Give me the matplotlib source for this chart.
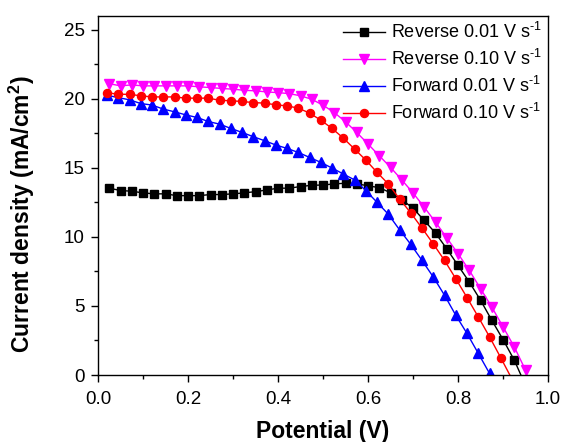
import matplotlib
matplotlib.use("Agg")
import matplotlib.pyplot as plt
from matplotlib.ticker import MultipleLocator

plt.rcParams['font.family'] = ['Liberation Sans', 'DejaVu Sans']
plt.rcParams['mathtext.fontset'] = 'custom'
plt.rcParams['mathtext.rm'] = 'Liberation Sans'
plt.rcParams['mathtext.it'] = 'Liberation Sans:italic'
plt.rcParams['mathtext.bf'] = 'Liberation Sans:bold'

# Reverse 0.01 V/s (black squares)
v_rev001 = [0.025, 0.05, 0.075, 0.10, 0.125, 0.15, 0.175, 0.20, 0.225, 0.25,
            0.275, 0.30, 0.325, 0.35, 0.375, 0.40, 0.425, 0.45, 0.475, 0.50,
            0.525, 0.55, 0.575, 0.60, 0.625, 0.65, 0.675, 0.70, 0.725, 0.75,
            0.775, 0.80, 0.825, 0.85, 0.875, 0.90, 0.925, 0.95]
j_rev001 = [13.53, 13.36, 13.31, 13.19, 13.12, 13.12, 12.99, 12.99, 12.99, 13.07,
            13.07, 13.12, 13.19, 13.28, 13.40, 13.53, 13.53, 13.65, 13.74, 13.76,
            13.84, 13.89, 13.85, 13.70, 13.57, 13.20, 12.70, 12.08, 11.19, 10.28,
            9.14, 7.94, 6.74, 5.42, 3.97, 2.57, 1.08, -0.75]

# Reverse 0.10 V/s (magenta down triangles)
v_rev010 = [0.025, 0.05, 0.075, 0.10, 0.125, 0.15, 0.175, 0.20, 0.225, 0.25,
            0.275, 0.30, 0.325, 0.35, 0.375, 0.40, 0.425, 0.45, 0.475, 0.50,
            0.525, 0.55, 0.575, 0.60, 0.625, 0.65, 0.675, 0.70, 0.725, 0.75,
            0.775, 0.80, 0.825, 0.85, 0.875, 0.90, 0.925, 0.95]
j_rev010 = [21.10, 20.94, 21.01, 20.94, 20.94, 20.94, 20.94, 20.94, 20.87, 20.82,
            20.75, 20.70, 20.62, 20.58, 20.50, 20.45, 20.38, 20.22, 19.97, 19.54,
            19.01, 18.34, 17.57, 16.73, 15.88, 15.04, 14.13, 13.19, 12.15, 11.07,
            9.94, 8.79, 7.58, 6.26, 4.93, 3.49, 2.04, 0.36]

# Forward 0.01 V/s (blue up triangles)
v_fwd001 = [0.02, 0.045, 0.07, 0.095, 0.12, 0.145, 0.17, 0.195, 0.22, 0.245,
            0.27, 0.295, 0.32, 0.345, 0.37, 0.395, 0.42, 0.445, 0.47, 0.495,
            0.52, 0.545, 0.57, 0.595, 0.62, 0.645, 0.67, 0.695, 0.72, 0.745,
            0.77, 0.795, 0.82, 0.845, 0.87]
j_fwd001 = [20.26, 20.09, 19.93, 19.66, 19.55, 19.26, 19.06, 18.84, 18.65, 18.36,
            18.17, 17.86, 17.57, 17.26, 16.97, 16.66, 16.41, 16.12, 15.76, 15.40,
            14.99, 14.56, 14.13, 13.36, 12.51, 11.65, 10.52, 9.46, 8.30, 7.10,
            5.78, 4.33, 3.01, 1.57, 0.12]

# Forward 0.10 V/s (red circles)
v_fwd010 = [0.02, 0.045, 0.07, 0.095, 0.12, 0.145, 0.17, 0.195, 0.22, 0.245,
            0.27, 0.295, 0.32, 0.345, 0.37, 0.395, 0.42, 0.445, 0.47, 0.495,
            0.52, 0.545, 0.57, 0.595, 0.62, 0.645, 0.67, 0.695, 0.72, 0.745,
            0.77, 0.795, 0.82, 0.845, 0.87, 0.895, 0.92]
j_fwd010 = [20.45, 20.33, 20.33, 20.22, 20.14, 20.14, 20.14, 20.05, 20.05, 20.05,
            19.90, 19.86, 19.81, 19.73, 19.69, 19.57, 19.49, 19.33, 18.97, 18.46,
            17.86, 17.16, 16.37, 15.57, 14.68, 13.84, 12.76, 11.74, 10.64, 9.50,
            8.30, 6.98, 5.61, 4.21, 2.77, 1.25, -0.30]

labels = ['Reverse 0.01 V s$^{\\text{-1}}$', 'Reverse 0.10 V s$^{\\text{-1}}$',
          'Forward 0.01 V s$^{\\text{-1}}$', 'Forward 0.10 V s$^{\\text{-1}}$']
x_ticks = [0.0, 0.2, 0.4, 0.6, 0.8, 1.0]
y_ticks = [0, 5, 10, 15, 20, 25]

fig = plt.figure(figsize=(5.61, 4.42), dpi=100)
ax = fig.add_axes([98/561, 1-375/442, 450/561, (375-16)/442])

ax.plot(v_rev001, j_rev001, '-s', color='black', lw=1.0, ms=5.2,
        markevery=list(range(len(v_rev001)-1)), label=labels[0])
ax.plot(v_rev010, j_rev010, '-v', color='#ff00ff', lw=1.0, ms=6.8, label=labels[1])
ax.plot(v_fwd001, j_fwd001, '-^', color='#0000ff', lw=1.0, ms=6.8, label=labels[2])
ax.plot(v_fwd010, j_fwd010, '-o', color='#ff0000', lw=1.0, ms=5.8,
        markevery=list(range(len(v_fwd010)-1)), label=labels[3])

ax.set_xlim(0, 1.0)
ax.set_ylim(0, 26)
ax.set_xticks(x_ticks)
ax.set_yticks(y_ticks)
ax.set_xticklabels([f'{t:.1f}' for t in x_ticks])
ax.set_yticklabels([str(t) for t in y_ticks])
ax.xaxis.set_minor_locator(MultipleLocator(0.1))
ax.yaxis.set_minor_locator(MultipleLocator(2.5))
ax.tick_params(which='major', direction='out', length=5, width=1, labelsize=13.5,
               top=False, right=False)
ax.tick_params(axis='x', which='major', pad=6.5)
ax.tick_params(axis='y', which='major', pad=4.5)
ax.tick_params(which='minor', direction='out', length=3, width=1, top=False, right=False)
for s in ax.spines.values():
    s.set_linewidth(1.0)

ax.set_xlabel('Potential (V)', fontsize=16.5, fontweight='bold', labelpad=9)
ax.set_ylabel('Current density (mA/cm$^{\\mathbf{2}}$)', fontsize=16.5,
              fontweight='bold')
ax.yaxis.set_label_coords(-0.136, 0.447)

leg = ax.legend(loc='upper right', bbox_to_anchor=(1.0, 1.0), frameon=False,
                fontsize=13, handlelength=2.3, handletextpad=0.35,
                labelspacing=0.38, borderaxespad=0.15, borderpad=0.2)

fig.savefig('out.png', dpi=100)
